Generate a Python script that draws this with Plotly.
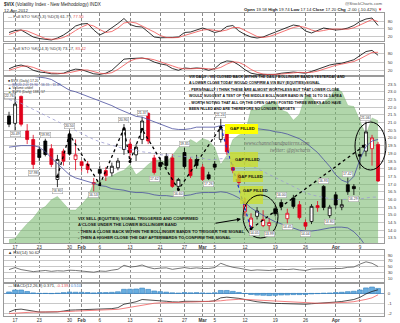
import plotly.graph_objects as go

# ---------------- data ----------------
dates = ["2012-01-13","2012-01-17","2012-01-18","2012-01-19","2012-01-20","2012-01-23","2012-01-24","2012-01-25","2012-01-26","2012-01-27","2012-01-30","2012-01-31",
         "2012-02-01","2012-02-02","2012-02-03","2012-02-06","2012-02-07","2012-02-08","2012-02-09","2012-02-10","2012-02-13","2012-02-14","2012-02-15","2012-02-16","2012-02-17","2012-02-21","2012-02-22","2012-02-23","2012-02-24","2012-02-27","2012-02-28","2012-02-29",
         "2012-03-01","2012-03-02","2012-03-05","2012-03-06","2012-03-07","2012-03-08","2012-03-09","2012-03-12","2012-03-13","2012-03-14","2012-03-15","2012-03-16","2012-03-19","2012-03-20","2012-03-21","2012-03-22","2012-03-23","2012-03-26","2012-03-27","2012-03-28","2012-03-29","2012-03-30",
         "2012-04-02","2012-04-03","2012-04-04","2012-04-05","2012-04-09","2012-04-10","2012-04-11","2012-04-12"]

vix_open  = [21.43,20.95,22.70,20.45,19.90,19.25,19.80,19.30,17.30,19.14,20.23,18.60,18.45,18.30,17.00,17.95,17.88,17.73,18.06,19.25,19.60,18.90,19.90,21.60,18.70,18.40,18.80,18.70,16.85,19.05,18.60,18.60,
             18.10,17.60,18.30,19.90,20.45,18.07,17.60,15.20,14.24,14.90,14.30,14.30,15.40,15.80,14.75,16.10,15.66,14.50,14.57,15.60,16.85,14.95,16.30,15.50,16.96,16.85,18.92,19.14,19.30,19.58]
vix_high  = [21.70,22.76,22.75,20.90,20.20,19.45,19.95,19.60,18.90,19.30,20.50,19.90,18.55,18.50,17.40,18.20,18.10,18.40,18.70,20.90,19.90,19.60,21.37,21.65,18.90,18.70,19.00,18.95,17.40,19.35,18.75,18.90,
             18.30,17.80,18.50,21.24,20.60,18.30,17.75,16.10,15.10,15.50,15.30,14.80,15.60,16.00,15.40,16.30,15.90,14.70,15.70,15.90,16.93,15.65,16.50,16.00,17.42,17.00,19.40,21.06,20.20,19.74]
vix_low   = [20.70,20.49,20.75,19.60,17.98,18.50,18.80,18.10,16.80,18.20,18.85,17.90,17.80,17.70,16.53,16.90,17.20,17.50,17.90,18.90,18.60,18.50,19.60,19.60,17.62,17.90,18.00,16.75,16.60,18.00,17.40,18.00,
             17.20,17.26,17.90,19.70,18.90,17.70,16.90,14.90,14.05,14.70,14.20,13.99,14.90,15.30,14.45,15.40,14.70,14.04,14.40,15.20,15.30,14.80,15.40,15.30,16.30,16.29,18.00,18.80,18.20,17.14]
vix_close = [20.89,22.20,20.89,19.90,18.28,18.73,18.92,18.27,18.60,18.49,18.95,18.90,18.20,17.95,17.10,17.70,17.55,18.16,18.50,20.56,19.05,19.40,21.10,19.80,17.75,18.15,18.20,16.85,17.30,18.14,17.55,18.20,
             17.30,17.35,18.10,20.60,19.10,17.90,17.10,15.64,14.79,15.25,14.70,14.50,15.07,15.55,15.10,15.55,14.82,14.26,15.55,15.47,15.48,15.50,15.64,15.66,16.50,16.70,18.81,20.39,20.00,17.20]
prior_close = 20.47

spx_close = [1283,1284,1291,1297,1302,1309,1312,1318,1321,1315,1309,1309,1314,1320,1333,1335,1337,1339,1342,1344,1349,1340,1344,1349,1353,1353,1351,1357,1364,1366,1371,1368,
             1372,1370,1364,1349,1357,1371,1375,1377,1397,1397,1401,1403,1405,1397,1395,1388,1393,1410,1408,1401,1404,1408,1416,1413,1401,1400,1388,1375,1390,1387.57]

bb_upper = [24.5,24.35,24.2,24.1,24.0,23.95,23.9,23.8,23.55,23.3,23.1,23.0,22.85,22.7,22.6,22.45,22.3,22.1,21.9,21.75,21.55,21.4,21.35,21.2,21.1,20.9,20.75,20.6,20.55,20.55,20.6,20.7,
            20.7,20.7,20.7,20.8,20.8,20.8,20.8,20.75,20.7,20.6,20.55,20.5,20.4,20.35,20.25,20.1,19.95,19.7,19.4,19.05,18.6,18.15,17.6,17.25,17.1,17.5,18.6,19.45,19.8,19.9]
bb_mid = [22.5,22.4,22.25,22.05,21.85,21.65,21.45,21.3,21.1,20.9,20.7,20.5,20.3,20.1,19.9,19.75,19.65,19.5,19.4,19.3,19.25,19.2,19.1,19.05,19.0,18.9,18.9,18.85,18.8,18.8,18.75,18.75,
          18.65,18.6,18.6,18.65,18.65,18.6,18.55,18.4,18.2,18.0,17.8,17.6,17.4,17.25,17.05,16.85,16.65,16.45,16.3,16.2,16.1,16.05,16.0,16.0,16.0,15.95,16.05,16.1,16.15,16.15]
bb_lower = [19.4,19.45,19.5,19.5,19.5,19.4,19.1,18.7,18.35,17.95,17.6,17.4,17.3,17.15,17.05,16.9,16.85,16.7,16.65,16.6,16.5,16.45,16.45,16.4,16.3,16.25,16.25,16.2,16.2,16.25,16.3,16.4,
            16.45,16.45,16.45,16.5,16.45,16.3,16.1,15.8,15.45,15.2,14.95,14.75,14.55,14.4,14.3,14.15,14.0,13.95,13.95,14.0,14.1,14.15,14.2,14.2,14.15,13.9,13.5,12.95,12.2,11.49]

sto_fast_k = [34,42,44,30,16,10,6,4,12,24,40,60,68,70,44,24,36,52,70,90,66,58,56,36,16,13,12,14,16,34,36,44,
              52,44,34,40,58,62,40,26,16,12,16,26,36,44,54,64,60,40,32,42,52,48,44,46,52,62,78,88,92,61.79]
sto_fast_d = [26,36,44,40,30,18,10,7,8,14,26,42,56,66,60,46,34,38,52,72,76,72,60,50,36,22,14,13,14,22,29,38,
              44,46,43,39,44,54,54,42,27,18,14,18,26,36,45,54,59,54,44,38,42,47,48,46,47,53,64,76,86,77.50]
sto_slow_k = [27,36,40,34,22,16,14,10,10,12,20,26,24,18,10,8,12,22,40,60,62,62,64,60,50,44,40,28,22,30,28,30,
              28,22,28,46,54,52,40,24,12,8,8,6,8,12,14,16,14,12,18,26,34,40,44,46,52,58,72,86,90,73.17]
sto_slow_d = [22,28,35,37,32,24,17,13,11,11,14,19,23,23,17,12,10,14,25,41,54,61,63,62,58,51,45,37,30,27,27,29,
              29,27,26,32,43,51,49,39,25,15,9,7,7,9,11,14,15,14,15,19,26,33,39,43,47,52,61,72,83,83.42]

rsi14 = [40,47,40,37,33,35,37,34,36,35,38,37,35,33,31,35,34,38,41,55,49,51,56,48,43,45,46,41,43,47,44,46,
         44,44,47,62,54,48,45,40,37,39,37,37,39,41,40,42,39,37,42,42,42,43,43,44,48,49,59,67,62,50.62]

macd_line = [-1.9,-1.65,-1.6,-1.7,-1.85,-1.9,-1.9,-1.92,-1.88,-1.8,-1.7,-1.68,-1.66,-1.65,-1.68,-1.62,-1.6,-1.55,-1.45,-1.1,-0.98,-0.85,-0.62,-0.65,-0.75,-0.78,-0.8,-0.86,-0.88,-0.8,-0.82,-0.78,
             -0.8,-0.82,-0.75,-0.45,-0.38,-0.42,-0.5,-0.62,-0.75,-0.85,-0.92,-1.0,-1.02,-1.03,-1.05,-1.05,-1.08,-1.1,-1.05,-1.02,-0.98,-0.95,-0.88,-0.82,-0.72,-0.62,-0.4,-0.05,0.2,0.371]
macd_signal = [-2.05,-2.0,-1.95,-1.9,-1.9,-1.9,-1.9,-1.9,-1.9,-1.88,-1.84,-1.8,-1.77,-1.74,-1.73,-1.71,-1.69,-1.66,-1.62,-1.52,-1.41,-1.3,-1.16,-1.06,-1.0,-0.96,-0.93,-0.92,-0.91,-0.89,-0.88,-0.86,
               -0.85,-0.84,-0.82,-0.75,-0.68,-0.63,-0.6,-0.61,-0.64,-0.68,-0.73,-0.78,-0.83,-0.87,-0.9,-0.93,-0.96,-0.99,-1.0,-1.0,-1.0,-0.99,-0.97,-0.94,-0.9,-0.84,-0.75,-0.61,-0.45,-0.139]
macd_hist = [0.15,0.35,0.35,0.2,0.05,0.0,0.0,-0.02,0.02,0.08,0.14,0.12,0.11,0.09,0.05,0.09,0.09,0.11,0.17,0.42,0.43,0.45,0.54,0.41,0.25,0.18,0.13,0.06,0.03,0.09,0.06,0.08,
             0.05,0.02,0.07,0.3,0.3,0.21,0.1,-0.01,-0.11,-0.17,-0.19,-0.22,-0.19,-0.16,-0.15,-0.12,-0.12,-0.11,-0.05,-0.02,0.02,0.04,0.09,0.12,0.18,0.22,0.35,0.56,0.65,0.51]

tick_dates = ["2012-01-17","2012-01-23","2012-01-30","2012-02-01","2012-02-06","2012-02-13","2012-02-21","2012-02-27",
              "2012-03-01","2012-03-05","2012-03-12","2012-03-19","2012-03-26","2012-04-02","2012-04-09"]
tick_text = ["17","23","30","<b>Feb</b>","6","13","21","27","<b>Mar</b>","5","12","19","26","<b>Apr</b>","9"]

zigzag_dates = ["2012-01-26","2012-01-30","2012-02-06","2012-02-10","2012-02-13","2012-02-15","2012-02-24","2012-03-06"]
zigzag_levels = [17.49,20.23,16.96,20.62,18.47,20.56,16.64,20.69]
gap_dates = ["2012-03-06","2012-03-13"]
gap_levels = [20.69,14.09]
signal_dates = ["2012-03-13","2012-04-10"]
signal_levels = [14.09,19.58]

high_label_days = [1,6,10,19,22,29,35,45,52,56,59]
low_label_days = [1,4,8,14,24,28,33,40,43,46,49,53,57]

top_note = ["VIX DAILY - VIX CLOSED BACK WITHIN THE DAILY BOLLINGER BANDS YESTERDAY AND",
            "A LOWER CLOSE TODAY WOULD CONFIRM A VIX BUY (EQUITIES) SIGNAL",
            "- PERSONALLY I THINK THESE ARE ALMOST WORTHLESS BUT THAT LOWER CLOSE",
            "WOULD SUGGEST A TEST OF THE MIDDLE BOLLINGER BAND IN THE 16 TO 16.5 AREA",
            "- WORTH NOTING THAT ALL OF THE OPEN GAPS I POSTED THREE WEEKS AGO HAVE",
            "BEEN FILLED AND ARE THEREFORE NO LONGER TARGETS"]
bottom_note = ["VIX SELL (EQUITIES) SIGNAL TRIGGERED AND CONFIRMED",
               "A CLOSE UNDER THE LOWER BOLLINGER BAND",
               "- THEN A CLOSE BACK WITHIN THE BOLLINGER BANDS TO TRIGGER THE SIGNAL",
               "- THEN A HIGHER CLOSE THE DAY AFTERWARDS TO CONFIRM THE SIGNAL"]

# ---------------- layout helpers ----------------
W, H = 400, 323
ML, MR = 4, 16
PW = W - ML - MR
def px(x): return (x - ML) / PW
def py(y): return (H - y) / H
def dom(top, bot): return [py(bot), py(top)]

FONT = "Liberation Sans, Arial, sans-serif"
XR = [-0.83, 61.98]

fig = go.Figure()

# SPX area (base axis y, hidden)
fig.add_trace(go.Scatter(x=dates, y=spx_close, xaxis="x", yaxis="y", mode="lines",
                         line=dict(color="rgba(110,170,100,0.6)", width=0.5), fill="tozeroy",
                         fillcolor="rgba(120,185,110,0.58)", hoverinfo="skip"))
# Bollinger bands on y6
fig.add_trace(go.Scatter(x=dates, y=bb_upper, xaxis="x", yaxis="y6", mode="lines", line=dict(color="#4a4fa0", width=0.8)))
fig.add_trace(go.Scatter(x=dates, y=bb_mid, xaxis="x", yaxis="y6", mode="lines", line=dict(color="#9a9ad0", width=0.8, dash="dot")))
fig.add_trace(go.Scatter(x=dates, y=bb_lower, xaxis="x", yaxis="y6", mode="lines", line=dict(color="#4a4fa0", width=0.8)))

# candles: black if close >= previous close, red otherwise
prev = [prior_close] + vix_close[:-1]
for up, col in [(True, "#000000"), (False, "#e0001a")]:
    idx = [i for i in range(len(dates)) if (vix_close[i] >= prev[i]) == up]
    fig.add_trace(go.Candlestick(
        x=[dates[i] for i in idx], open=[vix_open[i] for i in idx], high=[vix_high[i] for i in idx],
        low=[vix_low[i] for i in idx], close=[vix_close[i] for i in idx], xaxis="x", yaxis="y6",
        increasing=dict(line=dict(color=col, width=0.8), fillcolor="#ffffff"),
        decreasing=dict(line=dict(color=col, width=0.8), fillcolor=col),
        whiskerwidth=0, showlegend=False))

# zigzag annotation lines
fig.add_trace(go.Scatter(x=zigzag_dates, y=zigzag_levels, xaxis="x", yaxis="y6", mode="lines+markers",
                         line=dict(color="#000", width=1.3, dash="dot"), marker=dict(size=3, color="#000")))
fig.add_trace(go.Scatter(x=gap_dates, y=gap_levels, xaxis="x", yaxis="y6", mode="lines+markers",
                         line=dict(color="#2030d0", width=1.3, dash="dot"), marker=dict(size=3, color="#000")))
fig.add_trace(go.Scatter(x=signal_dates, y=signal_levels, xaxis="x", yaxis="y6", mode="lines",
                         line=dict(color="#000", width=1.3, dash="dot")))

# stochastics
fig.add_trace(go.Scatter(x=dates, y=sto_fast_k, xaxis="x2", yaxis="y2", mode="lines", line=dict(color="#000", width=0.8)))
fig.add_trace(go.Scatter(x=dates, y=sto_fast_d, xaxis="x2", yaxis="y2", mode="lines", line=dict(color="#f05050", width=0.8)))
fig.add_trace(go.Scatter(x=dates, y=sto_slow_k, xaxis="x3", yaxis="y3", mode="lines", line=dict(color="#000", width=0.8)))
fig.add_trace(go.Scatter(x=dates, y=sto_slow_d, xaxis="x3", yaxis="y3", mode="lines", line=dict(color="#f05050", width=0.8)))
# RSI
fig.add_trace(go.Scatter(x=dates, y=rsi14, xaxis="x4", yaxis="y4", mode="lines", line=dict(color="#555", width=0.8)))
# MACD
fig.add_trace(go.Bar(x=dates, y=macd_hist, xaxis="x5", yaxis="y5", marker=dict(color="#6aaee0", line=dict(color="#2f7fc0", width=0.6)), width=0.8))
fig.add_trace(go.Scatter(x=dates, y=macd_line, xaxis="x5", yaxis="y5", mode="lines", line=dict(color="#222", width=0.8)))
fig.add_trace(go.Scatter(x=dates, y=macd_signal, xaxis="x5", yaxis="y5", mode="lines", line=dict(color="#f06060", width=0.8)))

# ---------------- axes ----------------
def xaxis(show_labels):
    return dict(type="category", categoryorder="array", categoryarray=dates, range=XR,
                tickmode="array", tickvals=tick_dates, ticktext=tick_text, showticklabels=show_labels,
                tickfont=dict(size=4.6, color="#333", family=FONT), ticks="", showgrid=True,
                gridcolor="#8a8a8a", gridwidth=0.5, griddash="3px,2px", showline=True, mirror=True,
                linecolor="#9a9a9a", linewidth=0.6, zeroline=False, rangeslider=dict(visible=False),
                domain=[0, 1], fixedrange=True, ticklabelstandoff=0)

def yaxis(d, rng, vals, text=None):
    return dict(domain=d, range=rng, side="right", tickmode="array", tickvals=vals,
                ticktext=text if text else [str(v) for v in vals],
                tickfont=dict(size=4.4, color="#444", family=FONT), ticks="", showgrid=True,
                gridcolor="#c8c8c8", gridwidth=0.5, zeroline=False, showline=True, mirror=True,
                linecolor="#9a9a9a", linewidth=0.6, fixedrange=True, ticklabelstandoff=2)

main_dom = dom(77, 243)
vix_ticks = [13.5 + 0.5 * k for k in range(21)]
layout = dict(
    width=W, height=H, margin=dict(l=ML, r=MR, t=0, b=0), paper_bgcolor="white", plot_bgcolor="white",
    showlegend=False, hovermode=False, font=dict(family=FONT),
    xaxis=dict(**xaxis(True), anchor="y"),
    xaxis2=dict(**xaxis(False), anchor="y2"),
    xaxis3=dict(**xaxis(False), anchor="y3"),
    xaxis4=dict(**xaxis(False), anchor="y4"),
    xaxis5=dict(**xaxis(True), anchor="y5"),
    yaxis=dict(domain=main_dom, range=[1280, 1426], visible=False, fixedrange=True, showgrid=False),
    yaxis6=dict(**yaxis(main_dom, [13.17, 23.96], vix_ticks, [f"{v:.1f}" for v in vix_ticks]),
                overlaying="y", anchor="x"),
    yaxis2=dict(**yaxis(dom(13, 41), [0, 112], [20, 50, 80]), anchor="x2"),
    yaxis3=dict(**yaxis(dom(44, 75), [5.9, 111.8], [20, 50, 80]), anchor="x3"),
    yaxis4=dict(**yaxis(dom(250, 282), [-3, 108], [10, 30, 50, 70, 90]), anchor="x4"),
    yaxis5=dict(**yaxis(dom(284, 316), [-2.3, 0.96], [-2, -1, 0]), anchor="x5"),
    bargap=0.2,
)
fig.update_layout(**layout)
fig.update_layout(yaxis5_zeroline=True, yaxis5_zerolinecolor="#7a9ac0", yaxis5_zerolinewidth=0.6)

ann = []
def txt(x, y, s, size=4.4, color="#222", anchor="left", family=FONT, **kw):
    ann.append(dict(x=px(x), y=py(y), xref="paper", yref="paper", text=s, showarrow=False,
                    xanchor=anchor, yanchor="middle", font=dict(size=size, color=color, family=family), **kw))

# header
txt(2, 4, "<b>$VIX</b> (Volatility Index - New Methodology) INDX", 4.6)
txt(2, 10, "12-Apr-2012", 4.3)
txt(384, 3.5, "@StockCharts.com", 4.3, color="#555", anchor="right")
txt(384, 9.5, "<b>Open</b> 19.58 <b>High</b> 19.74 <b>Low</b> 17.14 <b>Close</b> 17.20 <b>Chg</b> -2.00 (-10.42%) <span style='color:#e0001a'>▼</span>", 4.3, anchor="right")
# panel legends
txt(6, 16.5, "— Full STO %K(5,3) %D(3) 61.79, <span style='color:#e05050'>77.50</span>", 4.2, color="#333")
txt(6, 48, "— Full STO %K(14,3) %D(3) 73.17, <span style='color:#e05050'>83.42</span>", 4.2, color="#333")
txt(6, 80.6, "■ $VIX (Daily) 17.20", 3.4, color="#333")
txt(6, 84.5, "<span style='color:#4a4fa0'>—</span> BB(20,2.0) 19.90 - 16.15 - 11.49", 3.4, color="#4a4fa0")
txt(6, 88.4, "▲ Volume undef", 3.4, color="#333")
txt(6, 92.3, "<span style='color:#5a9a50'>▲</span> $SPX (Daily) 1387.57", 3.4, color="#333")
txt(6, 253, "▲ RSI(14) 50.62", 4.2, color="#333")
txt(6, 285.5, "— MACD(12,26,9) 0.371, <span style='color:#e05050'>-0.139</span>, <span style='color:#3a7fd0'>0.510</span>", 4.2, color="#333")

# notes
for i, line in enumerate(top_note):
    txt(187, 77 + 6.4 * i, "<b>" + line + "</b>", 3.65, color="#111")
for i, line in enumerate(bottom_note):
    txt(76, 218 + 6.6 * i, "<b>" + line + "</b>", 4.15, color="#111")

# watermark
txt(312, 143, "<i>www.channelsandpatterns.com</i>", 5.2, color="#6a6a6a", anchor="right", family="Liberation Serif, serif")
txt(312, 150, "<i>twitter: @pjscharts</i>", 5.2, color="#6a6a6a", anchor="right", family="Liberation Serif, serif")

# price labels at highs/lows
label_shift = {1: (-6, -4)}
for i in high_label_days:
    xs, ys = label_shift.get(i, (0, 1))
    ann.append(dict(x=dates[i], y=vix_high[i], xref="x", yref="y6", text=f"{vix_high[i]:.2f}", showarrow=False,
                    yanchor="bottom", yshift=ys, xshift=xs, font=dict(size=3.5, color="#333", family=FONT),
                    bgcolor="white", bordercolor="#999", borderwidth=0.5, borderpad=0.4))
for i in low_label_days:
    ann.append(dict(x=dates[i], y=vix_low[i], xref="x", yref="y6", text=f"{vix_low[i]:.2f}", showarrow=False,
                    yanchor="top", yshift=-1, xshift=3 if i == 40 else 0, font=dict(size=3.5, color="#333", family=FONT),
                    bgcolor="white", bordercolor="#999", borderwidth=0.5, borderpad=0.4))

# gap boxes
shapes = []
def rect(x0, y0, x1, y1, color):
    shapes.append(dict(type="rect", xref="paper", yref="paper", x0=px(x0), x1=px(x1), y0=py(y1), y1=py(y0),
                       fillcolor=color, line=dict(width=0), layer="above"))
rect(230, 152, 258, 167, "rgba(205,222,40,0.75)")
rect(233, 171, 263, 182, "rgba(205,222,40,0.75)")
rect(240, 186, 263, 204, "rgba(205,222,40,0.75)")
rect(225, 124, 258, 134, "rgba(255,255,0,1)")
for (x, y) in [(228, 129), (233, 159), (236, 176.5), (241, 191)]:
    txt(x, y, "<b>GAP FILLED</b>", 4.2, color="#111")

# ellipses
for (x0, y0, x1, y1) in [(243, 195, 278, 238), (355, 122, 386, 170)]:
    shapes.append(dict(type="circle", xref="paper", yref="paper", x0=px(x0), x1=px(x1), y0=py(y1), y1=py(y0),
                       line=dict(color="#000", width=1), layer="above"))
# arrows
ann.append(dict(x=px(241), y=py(219), xref="paper", yref="paper", ax=-27, ay=4.5,
                showarrow=True, arrowhead=2, arrowsize=0.8, arrowwidth=1, arrowcolor="#000", text=""))
ann.append(dict(x=signal_dates[1], y=signal_levels[1], xref="x", yref="y6", ax=-6, ay=4,
                showarrow=True, arrowhead=2, arrowsize=0.8, arrowwidth=1, arrowcolor="#000", text=""))

fig.update_layout(annotations=ann, shapes=shapes)
fig.write_html("out.html")
